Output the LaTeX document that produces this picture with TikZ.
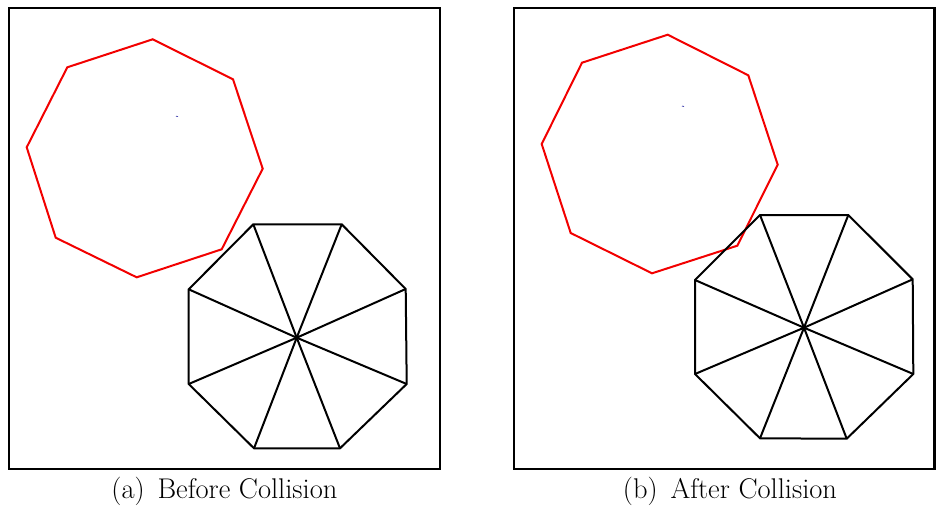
\documentclass[tikz,border=0pt]{standalone}
\usepackage{tikz}
\usetikzlibrary{calc}

\begin{document}
\begin{tikzpicture}[
    x=1pt, y=-1pt,
    frame/.style={draw=black, line width=2.2pt},
    redpoly/.style={draw=red!95!black, line width=2pt, line join=miter},
    blackpoly/.style={draw=black, line width=2pt},
    speck/.style={draw=blue!40!gray, line width=0.8pt},
    caption/.style={font=\fontsize{28.5}{32}\selectfont, anchor=base}
]
\useasboundingbox (0,0) rectangle (936,507);

% Panel (a)
\draw [frame] (9,8) rectangle (440,469);
\draw [redpoly] (152.7,39.3) -- (233,79.3) -- (262.7,168.7) -- (221.7,249.3) -- (136.7,277.3) -- (55.7,237.7) -- (26.7,147.3) -- (67.3,67.3) -- cycle;
\draw [speck] (176,116.2) -- (178,116.6);

\coordinate (ca) at (296.7,337.7);
\foreach \x/\y [count=\i] in {253.3/224.3, 341.7/224.3, 405.7/289, 406.7/384, 340/448.3, 254/448.3, 188.7/384, 188.7/289.3}
    \coordinate (a\i) at (\x,\y);
\draw [blackpoly] (a1) -- (a2) -- (a3) -- (a4) -- (a5) -- (a6) -- (a7) -- (a8) -- cycle;
\foreach \i in {1,...,8}
    \draw [blackpoly] (ca) -- (a\i);

\node (capa) [caption] at (224.5,498) {(a)\hspace{0.45em}Before Collision};

% Panel (b)
\draw [frame] (514,8) rectangle (934.5,469);
\draw [redpoly] (667.7,34.7) -- (748.3,75.3) -- (777.7,164.7) -- (737.3,245.7) -- (652,273.3) -- (570.7,233) -- (541.7,144) -- (582,62.7) -- cycle;
\draw [speck] (682,106.1) -- (684,106.5);

\coordinate (cb) at (804,327.7);
\foreach \x/\y [count=\i] in {760/215, 848.3/215, 912.7/279.3, 913.3/374, 846.7/438.7, 760/438.3, 695/374, 695/280}
    \coordinate (b\i) at (\x,\y);
\draw [blackpoly] (b1) -- (b2) -- (b3) -- (b4) -- (b5) -- (b6) -- (b7) -- (b8) -- cycle;
\foreach \i in {1,...,8}
    \draw [blackpoly] (cb) -- (b\i);

\node (capb) [caption] at (730,498) {(b)\hspace{0.45em}After Collision};

\end{tikzpicture}
\end{document}
